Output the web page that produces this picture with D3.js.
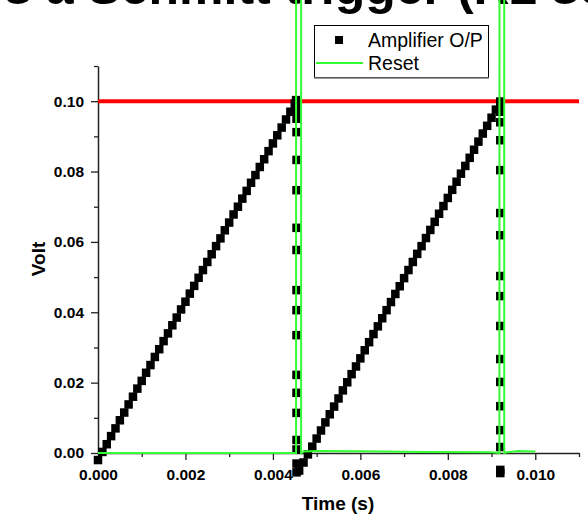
<!DOCTYPE html>
<html><head><meta charset="utf-8">
<script src="https://cdn.jsdelivr.net/npm/d3@7"></script>
<style>
body{margin:0;background:#fff;}
svg{display:block;font-family:Arial,"Liberation Sans",sans-serif;}
</style></head>
<body><svg id="c" width="588" height="519"></svg>
<script>
// ---- data ----
const titleText = "s a Schmitt trigger (R2 sec";
const xLabel = "Time (s)";
const yLabel = "Volt";
const seriesNames = ["Amplifier O/P", "Reset"];
const xTicks = [0, 0.002, 0.004, 0.006, 0.008, 0.010];
const xMinorTicks = [0.001, 0.003, 0.005, 0.007, 0.009, 0.011];
const yTicks = [0, 0.02, 0.04, 0.06, 0.08, 0.10];
const yMinorTicks = [0.01, 0.03, 0.05, 0.07, 0.09, 0.11];
const threshold = 0.10;

// Amplifier output: first ramp
const ampT1 = [0,0.0001,0.0002,0.0003,0.0004,0.0005,0.0006,0.0007,0.0008,0.0009,
  0.0010,0.0011,0.0012,0.0013,0.0014,0.0015,0.0016,0.0017,0.0018,0.0019,
  0.0020,0.0021,0.0022,0.0023,0.0024,0.0025,0.0026,0.0027,0.0028,0.0029,
  0.0030,0.0031,0.0032,0.0033,0.0034,0.0035,0.0036,0.0037,0.0038,0.0039,
  0.0040,0.0041,0.0042,0.0043,0.0044,0.0045,0.00453];
const ampV1 = [-0.0020,0.0003,0.0025,0.0048,0.0070,0.0093,0.0115,0.0138,0.0160,0.0183,
  0.0205,0.0228,0.0250,0.0273,0.0295,0.0318,0.0340,0.0363,0.0385,0.0408,
  0.0430,0.0453,0.0475,0.0498,0.0520,0.0543,0.0565,0.0588,0.0610,0.0633,
  0.0655,0.0678,0.0700,0.0723,0.0745,0.0768,0.0790,0.0813,0.0835,0.0858,
  0.0880,0.0903,0.0925,0.0948,0.0970,0.0993,0.1003];
// first drop (all at t = 0.00454)
const ampDropT1 = 0.00454;
const ampDropV1 = [0.0990,0.0970,0.0950,0.0912,0.0833,0.0747,0.0640,0.0577,0.0463,0.0406,
  0.0335,0.0222,0.0171,0.0114,0.0037,0.0010,-0.0030,-0.0055];
// second ramp
const ampT2 = [0.0046,0.0047,0.0048,0.0049,0.0050,0.0051,0.0052,0.0053,0.0054,0.0055,
  0.0056,0.0057,0.0058,0.0059,0.0060,0.0061,0.0062,0.0063,0.0064,0.0065,
  0.0066,0.0067,0.0068,0.0069,0.0070,0.0071,0.0072,0.0073,0.0074,0.0075,
  0.0076,0.0077,0.0078,0.0079,0.0080,0.0081,0.0082,0.0083,0.0084,0.0085,
  0.0086,0.0087,0.0088,0.0089,0.0090,0.0091,0.0092];
const ampV2 = [-0.0050,-0.0027,-0.0004,0.0018,0.0041,0.0064,0.0087,0.0110,0.0132,0.0155,
  0.0178,0.0201,0.0224,0.0246,0.0269,0.0292,0.0315,0.0338,0.0360,0.0383,
  0.0406,0.0429,0.0452,0.0474,0.0497,0.0520,0.0543,0.0566,0.0588,0.0611,
  0.0634,0.0657,0.0680,0.0702,0.0725,0.0748,0.0771,0.0794,0.0816,0.0839,
  0.0862,0.0885,0.0908,0.0930,0.0953,0.0976,0.0999];
// second drop (all at t = 0.00920)
const ampDropT2 = 0.00920;
const ampDropV2 = [0.0991,0.0970,0.0940,0.0889,0.0804,0.0682,0.0619,0.0503,0.0446,0.0361,
  0.0267,0.0202,0.0133,0.0065,0.0017,-0.0048,-0.0057];

// Reset signal
const resetT = [0,0.00453,0.004535,0.00464,0.004645,0.0047,0.0050,0.0060,0.0075,0.0090,0.00918,
  0.00919,0.00928,0.00929,0.00935,0.0096,0.0100];
const resetV = [0,0,5,5,0,0.0004,0.0006,0.0005,0.0003,0.0002,0,
  5,5,0,0.0002,0.0006,0.0004];

// ---- drawing ----
const svg = d3.select("#c");
const x = d3.scaleLinear().domain([0, 0.011]).range([98, 579]);
const y = d3.scaleLinear().domain([0, 0.11]).range([453, 66]);

// title (cut off at top, as in the reference)
svg.append("text").attr("x", 4).attr("y", 4)
  .attr("font-size", 50).attr("font-weight", "bold").attr("fill", "#000")
  .text(titleText);

// axes
const fmtX = d3.format(".3f"), fmtY = d3.format(".2f");
const gx = svg.append("g").attr("transform", `translate(0,${y(0)})`)
  .call(d3.axisBottom(x).tickValues(xTicks).tickFormat(fmtX).tickSize(7).tickSizeOuter(0));
const gxm = svg.append("g").attr("transform", `translate(0,${y(0)})`)
  .call(d3.axisBottom(x).tickValues(xMinorTicks).tickFormat("").tickSize(4).tickSizeOuter(0));
const gy = svg.append("g").attr("transform", `translate(${x(0)},0)`)
  .call(d3.axisLeft(y).tickValues(yTicks).tickFormat(fmtY).tickSize(7).tickSizeOuter(0));
const gym = svg.append("g").attr("transform", `translate(${x(0)},0)`)
  .call(d3.axisLeft(y).tickValues(yMinorTicks).tickFormat("").tickSize(4).tickSizeOuter(0));
gxm.select(".domain").remove(); gym.select(".domain").remove();
[gx, gy, gxm, gym].forEach(g => {
  g.selectAll(".domain").attr("stroke", "#222").attr("stroke-width", 1.5);
  g.selectAll(".tick line").attr("stroke", "#222").attr("stroke-width", 1.3);
  g.selectAll("text").attr("font-size", 15.5).attr("font-weight", "bold")
    .attr("fill", "#000").attr("font-family", "Arial, 'Liberation Sans', sans-serif");
});
gx.selectAll(".tick text").attr("dy", null).attr("y", 27);
gy.selectAll(".tick text").attr("x", -14);

// axis titles
svg.append("text").attr("x", 338).attr("y", 510).attr("text-anchor", "middle")
  .attr("font-size", 19).attr("font-weight", "bold").text(xLabel);
svg.append("text").attr("transform", "translate(45,259) rotate(-90)")
  .attr("text-anchor", "middle").attr("font-size", 19).attr("font-weight", "bold").text(yLabel);

// threshold red line
svg.append("line").attr("x1", x(0)).attr("x2", x(0.011))
  .attr("y1", y(threshold)).attr("y2", y(threshold))
  .attr("stroke", "#ff0000").attr("stroke-width", 4);

// amplifier markers
const ampPts = [];
ampT1.forEach((t, i) => ampPts.push([t, ampV1[i]]));
ampDropV1.forEach(v => ampPts.push([ampDropT1, v]));
ampT2.forEach((t, i) => ampPts.push([t, ampV2[i]]));
ampDropV2.forEach(v => ampPts.push([ampDropT2, v]));
const ms = 8.5;
svg.append("g").selectAll("rect").data(ampPts).join("rect")
  .attr("x", d => x(d[0]) - ms / 2).attr("y", d => y(d[1]) - ms / 2)
  .attr("width", ms).attr("height", ms).attr("fill", "#000");

// reset line
const resetPts = resetT.map((t, i) => [t, resetV[i]]);
svg.append("path").datum(resetPts)
  .attr("d", d3.line().x(d => x(d[0])).y(d => y(d[1])))
  .attr("fill", "none").attr("stroke", "#33ff33").attr("stroke-width", 2);

// legend
const lg = svg.append("g");
lg.append("rect").attr("x", 314.5).attr("y", 25.5).attr("width", 174).attr("height", 52)
  .attr("fill", "#fff").attr("stroke", "#000").attr("stroke-width", 1);
lg.append("line").attr("x1", 314).attr("x2", 489).attr("y1", 78).attr("y2", 78)
  .attr("stroke", "#777").attr("stroke-width", 1.5);
lg.append("rect").attr("x", 335).attr("y", 36).attr("width", 8).attr("height", 8).attr("fill", "#000");
lg.append("text").attr("x", 368).attr("y", 47).attr("font-size", 19.5).text(seriesNames[0]);
lg.append("line").attr("x1", 316).attr("x2", 363).attr("y1", 63).attr("y2", 63)
  .attr("stroke", "#33ff33").attr("stroke-width", 2);
lg.append("text").attr("x", 368).attr("y", 70).attr("font-size", 19.5).text(seriesNames[1]);
</script></body></html>
